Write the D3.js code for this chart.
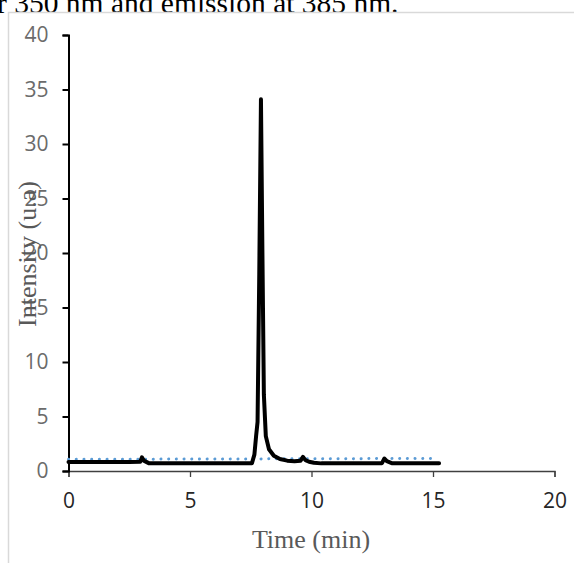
<!DOCTYPE html>
<html>
<head>
<meta charset="utf-8">
<script src="https://cdn.jsdelivr.net/npm/d3@7"></script>
<style>
  html, body { margin: 0; padding: 0; background: #fff; }
  svg { display: block; }
</style>
</head>
<body>
<svg id="chart" width="574" height="563"></svg>
<script>
// Chromatogram: fluorescence intensity over retention time
const timeMin = [0, 0.5, 1, 1.5, 2, 2.5, 2.95, 3.02, 3.1, 3.3, 4, 5, 6, 7, 7.55, 7.65, 7.72, 7.78, 7.85, 7.92, 7.98, 8.04, 8.12, 8.25, 8.45, 8.7, 9.0, 9.3, 9.55, 9.65, 9.75, 9.9, 10.1, 10.4, 11, 12, 12.9, 13.0, 13.1, 13.3, 14, 15, 15.25];
const intensity = [0.82, 0.82, 0.82, 0.82, 0.82, 0.82, 0.85, 1.25, 0.95, 0.72, 0.7, 0.7, 0.7, 0.7, 0.72, 1.5, 3.2, 4.5, 18, 34.1, 20, 7, 3.2, 2.0, 1.4, 1.1, 0.95, 0.9, 0.95, 1.3, 1.0, 0.85, 0.75, 0.7, 0.7, 0.7, 0.72, 1.15, 0.9, 0.72, 0.7, 0.7, 0.7];

// Linear trend (dotted)
const trendTime = [0, 15];
const trendIntensity = [1.07, 1.15];

const xTicks = [0, 5, 10, 15, 20];
const yTicks = [0, 5, 10, 15, 20, 25, 30, 35, 40];

const captionText = "r 350 nm and emission at 385 nm.";
const xTitle = "Time (min)";
const yTitle = "Intensity (u.a)";

const svg = d3.select("#chart");

const x = d3.scaleLinear().domain([0, 20]).range([68.5, 554.5]);
const y = d3.scaleLinear().domain([0, 40]).range([471, 35]);

// caption line from surrounding text
svg.append("text")
  .attr("x", -3).attr("y", 13)
  .attr("font-family", "'Liberation Serif', 'Times New Roman', serif")
  .attr("font-size", 29.5)
  .attr("fill", "#000")
  .text(captionText);

// chart frame
svg.append("rect")
  .attr("x", 8.5).attr("y", 12.5)
  .attr("width", 700).attr("height", 700)
  .attr("fill", "#fff")
  .attr("stroke", "#d9d9d9")
  .attr("stroke-width", 1.5);

// x axis
const xAxis = svg.append("g")
  .attr("transform", `translate(0,${y(0)})`)
  .call(d3.axisBottom(x).tickValues(xTicks).tickSize(6).tickPadding(16).tickFormat(d3.format("d")));
xAxis.select(".domain").attr("stroke", "#404040").attr("stroke-width", 1.3);
xAxis.selectAll(".tick line").attr("stroke", "#404040").attr("stroke-width", 1.3);
xAxis.selectAll(".tick text")
  .attr("font-family", "'Open Sans', sans-serif")
  .attr("font-size", 21)
  .attr("fill", "#262626");

// y axis
const yAxis = svg.append("g")
  .attr("transform", `translate(${x(0)},0)`)
  .call(d3.axisLeft(y).tickValues(yTicks).tickSize(6).tickPadding(14).tickFormat(d3.format("d")));
yAxis.select(".domain").attr("stroke", "#000").attr("stroke-width", 2);
yAxis.selectAll(".tick line").attr("stroke", "#000").attr("stroke-width", 2);
yAxis.selectAll(".tick text")
  .attr("font-family", "'Open Sans', sans-serif")
  .attr("font-size", 21)
  .attr("fill", "#6b6b6b");

// trend line
const trendData = trendTime.map((t, i) => [t, trendIntensity[i]]);
svg.append("path")
  .datum(trendData)
  .attr("d", d3.line().x(d => x(d[0])).y(d => y(d[1])))
  .attr("fill", "none")
  .attr("stroke", "#5b9bd5")
  .attr("stroke-width", 3)
  .attr("stroke-linecap", "round")
  .attr("stroke-dasharray", "0.1 7.6");

// signal trace
const traceData = timeMin.map((t, i) => [t, intensity[i]]);
svg.append("path")
  .datum(traceData)
  .attr("d", d3.line().x(d => x(d[0])).y(d => y(d[1])))
  .attr("fill", "none")
  .attr("stroke", "#000")
  .attr("stroke-width", 4)
  .attr("stroke-linejoin", "round")
  .attr("stroke-linecap", "round");

// axis titles
svg.append("text")
  .attr("x", 311).attr("y", 548)
  .attr("text-anchor", "middle")
  .attr("font-family", "'Liberation Serif', 'Times New Roman', serif")
  .attr("font-size", 26)
  .attr("fill", "#595959")
  .text(xTitle);

svg.append("text")
  .attr("transform", "translate(36,254) rotate(-90)")
  .attr("text-anchor", "middle")
  .attr("font-family", "'Liberation Serif', 'Times New Roman', serif")
  .attr("font-size", 26)
  .attr("fill", "#595959")
  .text(yTitle);
</script>
</body>
</html>
